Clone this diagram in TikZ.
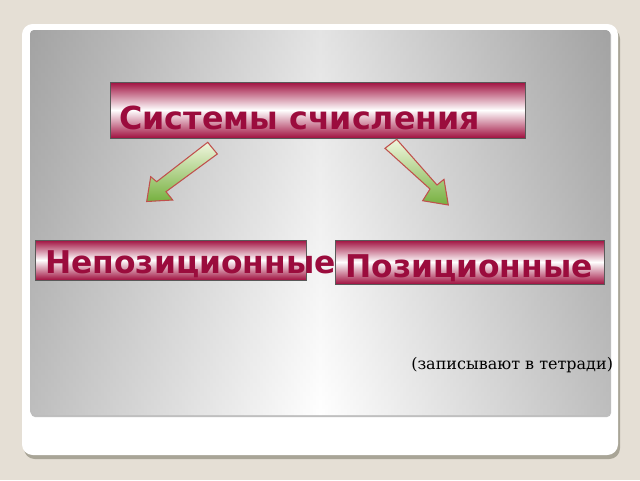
\documentclass[tikz,border=0pt]{standalone}
\usepackage{fontspec}
\setmainfont{DejaVu Sans}
\newfontfamily\notefont{DejaVu Serif}
\definecolor{crimson}{HTML}{A0103F}
\definecolor{crimsontext}{HTML}{9B0C3D}
\definecolor{leafgreen}{HTML}{76B03F}
\definecolor{palegreen}{HTML}{F0F6DE}
\definecolor{arrowred}{HTML}{C0504D}
\definecolor{paper}{HTML}{E5DFD5}
\definecolor{cardshadow}{HTML}{A9A597}
\definecolor{panelgray}{HTML}{A2A2A2}

\begin{document}
\begin{tikzpicture}[x=0.75pt, y=-0.75pt]
        % Styles
        \tikzstyle{bar} = [draw=black!65, line width=0.6pt, top color=crimson, bottom color=crimson, middle color=white]
        \tikzstyle{bartext} = [font=\bfseries\fontsize{23.5}{24}\selectfont, text=crimsontext, anchor=base west, inner sep=0pt]
        \tikzstyle{blockarrow} = [draw=arrowred, line width=0.8pt, line join=miter, top color=palegreen, bottom color=leafgreen]

        % Page, card and panel
        \fill[paper] (0,0) rectangle (640,480);
        \useasboundingbox (0,0) rectangle (640,480);
        \fill[cardshadow, rounded corners=8] (24,28) rectangle (620,459);
        \fill[white, rounded corners=8] (22,24) rectangle (618,455);
        \fill[black!25, rounded corners=3] (31,31) rectangle (611,417);
        \shade[left color=panelgray, right color=panelgray, middle color=white, rounded corners=3] (30,30) rectangle (610,415);
        \shade[top color=black!35, bottom color=white, fill opacity=0.3, rounded corners=3] (30,30) rectangle (610,415);

        % Title bar
        \shade[bar] (110,82) rectangle (525,138);
        \node[bartext, font=\bfseries\fontsize{23.8}{24}\selectfont] (title) at (119,129) {Системы счисления};

        % Block arrows
        \shade[blockarrow] (207.7,142.3) -- (217.3,154) -- (166,191.7) -- (172.7,200)
            -- (146.7,201.5) -- (150.7,176.7) -- (156.7,181.7) -- cycle;
        \shade[blockarrow] (396.7,139.3) -- (385,148.3) -- (430,189) -- (422.7,200.7)
            -- (448.3,205) -- (444,179.3) -- (437,185) -- cycle;

        % Lower bars
        \shade[bar] (35,240) rectangle (306,280);
        \node[bartext] (nonpos) at (45,273) {Непозиционные};

        \shade[bar] (335,240) rectangle (604,284);
        \node[bartext] (pos) at (345,277) {Позиционные};

        % Note
        \node[font=\notefont\fontsize{12}{12}\selectfont, anchor=base west, inner sep=0pt] (note) at (411,369) {(записывают в тетради)};
\end{tikzpicture}
\end{document}
